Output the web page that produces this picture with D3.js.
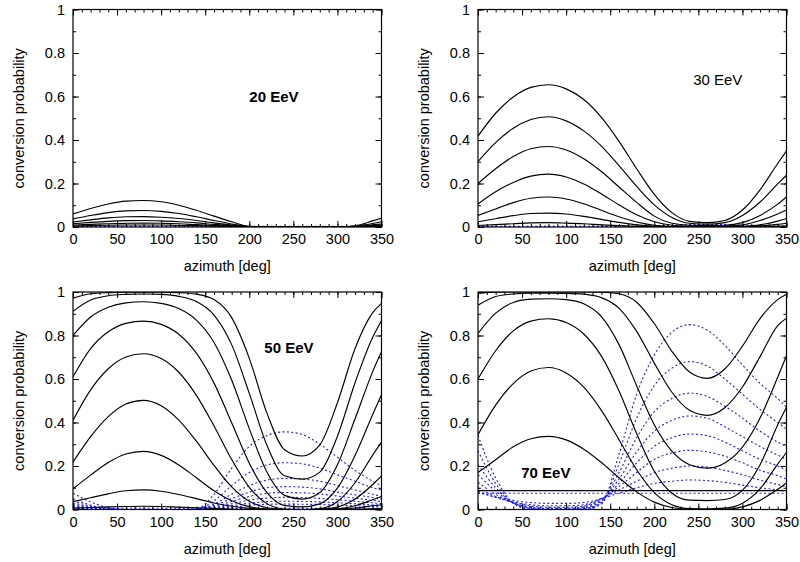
<!DOCTYPE html>
<html>
<head>
<meta charset="utf-8">
<script src="https://cdn.jsdelivr.net/npm/d3@7"></script>
<style>
  body { margin: 0; background: #fff; }
  svg text { font-family: "Liberation Sans", Arial, Helvetica, sans-serif; fill: #000; }
</style>
</head>
<body>
<svg id="chart" width="800" height="562"></svg>
<script>
// ---------- Data ----------
const azimuth = [0, 20, 40, 60, 80, 100, 120, 140, 160, 180, 200, 220, 240, 260, 280, 300, 320, 340, 350];
const xTicks = [0, 50, 100, 150, 200, 250, 300, 350];
const yTicks = [0, 0.2, 0.4, 0.6, 0.8, 1];

// 20 EeV
const black20 = [
  [.060, .085, .106, .119, .122, .116, .100, .077, .050, .024, .003, 0, 0, 0, 0, 0, .006, .028, .040],
  [.037, .053, .066, .074, .076, .072, .062, .047, .030, .014, .002, 0, 0, 0, 0, 0, .004, .016, .024],
  [.023, .033, .042, .047, .048, .045, .039, .030, .019, .009, .001, 0, 0, 0, 0, 0, .002, .010, .014],
  [.015, .021, .026, .029, .030, .028, .024, .019, .012, .006, .001, 0, 0, 0, 0, 0, .001, .006, .009],
  [.009, .012, .015, .017, .018, .017, .015, .011, .007, .003, 0, 0, 0, 0, 0, 0, .001, .004, .005],
  [.004, .006, .008, .009, .009, .009, .007, .006, .004, .002, 0, 0, 0, 0, 0, 0, 0, .002, .003]
];
const blue20 = [
  [.003, .003, .003, .003, .003, .003, .003, .003, .003, .003, .003, .003, .003, .003, .003, .003, .003, .003, .003]
];

// 30 EeV
const black30 = [
  [.418, .523, .598, .642, .654, .635, .586, .504, .394, .268, .150, .066, .026, .020, .030, .078, .171, .292, .350],
  [.301, .388, .454, .494, .507, .488, .442, .372, .282, .187, .102, .044, .017, .013, .020, .053, .115, .198, .238],
  [.200, .268, .324, .360, .370, .354, .314, .255, .184, .113, .050, .017, .008, .007, .008, .020, .053, .105, .138],
  [.106, .162, .205, .234, .243, .230, .198, .152, .102, .056, .024, .008, .004, .003, .004, .010, .030, .060, .078],
  [.053, .083, .112, .132, .138, .129, .107, .077, .047, .023, .008, .002, .001, .001, .001, .003, .010, .027, .039],
  [.024, .038, .052, .062, .064, .060, .049, .035, .021, .010, .004, .001, 0, 0, 0, .001, .005, .012, .017],
  [.007, .011, .015, .019, .020, .018, .015, .010, .006, .003, .001, 0, 0, 0, 0, 0, .001, .003, .005]
];
const blue30 = [
  [.003, .003, .003, .003, .003, .003, .003, .003, .003, .003, .003, .003, .003, .003, .003, .003, .003, .003, .003],
  [.002, .001, 0, 0, 0, 0, 0, 0, 0, .001, .004, .008, .011, .012, .011, .009, .006, .004, .003]
];

// 50 EeV
const black50 = [
  [.972, .992, .997, .999, .999, .999, .997, .990, .965, .882, .695, .443, .275, .246, .297, .491, .740, .905, .948],
  [.911, .963, .983, .989, .991, .989, .980, .956, .894, .758, .534, .295, .155, .140, .172, .337, .583, .792, .868],
  [.800, .885, .930, .950, .955, .948, .924, .871, .768, .595, .372, .172, .065, .048, .078, .206, .417, .634, .725],
  [.610, .740, .817, .856, .866, .851, .806, .719, .581, .399, .213, .078, .019, .012, .026, .098, .248, .437, .528],
  [.410, .550, .647, .701, .716, .694, .631, .525, .384, .230, .102, .027, .002, 0, .004, .037, .123, .250, .310],
  [.218, .335, .427, .485, .502, .477, .411, .314, .203, .104, .038, .008, 0, 0, .001, .011, .048, .115, .155],
  [.095, .158, .216, .255, .267, .249, .205, .146, .086, .040, .013, .002, 0, 0, 0, .003, .017, .045, .060],
  [.036, .054, .072, .086, .090, .084, .069, .050, .030, .015, .005, .001, 0, 0, 0, .002, .007, .017, .022],
  [.006, .009, .012, .014, .015, .014, .011, .008, .005, .002, .001, 0, 0, 0, 0, 0, .001, .003, .004]
];
const blue50 = [
  [.075, .035, .008, 0, 0, 0, 0, .002, .070, .190, .290, .340, .357, .345, .300, .240, .180, .130, .110],
  [.050, .020, .004, 0, 0, 0, 0, .001, .040, .110, .170, .205, .215, .210, .190, .160, .130, .100, .090],
  [.040, .015, .003, 0, 0, 0, 0, .001, .025, .070, .110, .135, .143, .140, .130, .110, .090, .070, .060],
  [.030, .012, .002, 0, 0, 0, 0, 0, .018, .050, .080, .100, .105, .103, .095, .080, .068, .055, .048],
  [.022, .008, .001, 0, 0, 0, 0, 0, .012, .037, .060, .074, .078, .077, .071, .062, .052, .042, .036],
  [.016, .006, .001, 0, 0, 0, 0, 0, .008, .026, .043, .053, .056, .055, .051, .045, .038, .031, .027],
  [.011, .004, 0, 0, 0, 0, 0, 0, .005, .017, .029, .036, .038, .037, .035, .031, .026, .021, .018],
  [.007, .002, 0, 0, 0, 0, 0, 0, .003, .011, .019, .024, .025, .024, .023, .020, .017, .014, .012],
  [.006, .006, .006, .006, .006, .006, .006, .006, .006, .006, .006, .006, .006, .006, .006, .006, .006, .006, .006]
];

// 70 EeV
const black70 = [
  [.994, .999, 1, 1, 1, 1, 1, .999, .992, .953, .855, .727, .632, .603, .646, .751, .878, .965, .990],
  [.939, .979, .991, .995, .995, .994, .990, .974, .925, .819, .673, .539, .456, .433, .468, .563, .703, .845, .880],
  [.810, .903, .952, .967, .969, .965, .946, .887, .758, .569, .390, .268, .206, .190, .214, .287, .421, .608, .707],
  [.600, .730, .821, .866, .877, .860, .807, .705, .545, .349, .176, .075, .043, .041, .046, .088, .206, .389, .470],
  [.344, .480, .579, .637, .653, .628, .563, .456, .321, .183, .078, .022, .004, .003, .006, .029, .095, .209, .262],
  [.170, .229, .288, .325, .336, .320, .277, .216, .146, .081, .034, .009, .001, 0, .001, .012, .042, .093, .122],
  [.087, .087, .087, .087, .087, .087, .087, .087, .087, .087, .087, .087, .087, .087, .087, .087, .087, .087, .087]
];
const blue70 = [
  [.340, .145, .030, 0, 0, 0, 0, .025, .255, .530, .710, .815, .850, .825, .755, .665, .580, .510, .470],
  [.270, .120, .030, .003, 0, 0, .002, .030, .210, .420, .570, .650, .680, .660, .600, .530, .460, .400, .370],
  [.205, .100, .030, .006, 0, 0, .004, .035, .170, .330, .450, .510, .535, .520, .475, .420, .360, .310, .290],
  [.160, .085, .030, .008, .002, .002, .008, .040, .140, .265, .360, .410, .430, .420, .380, .335, .290, .250, .230],
  [.125, .070, .030, .012, .005, .005, .012, .045, .120, .215, .290, .330, .347, .340, .310, .270, .230, .200, .180],
  [.100, .060, .032, .016, .010, .010, .016, .050, .105, .170, .230, .260, .272, .265, .245, .215, .180, .155, .140],
  [.085, .055, .035, .022, .017, .017, .022, .050, .090, .130, .170, .190, .200, .195, .180, .160, .135, .115, .105],
  [.078, .058, .042, .032, .028, .028, .032, .050, .075, .100, .120, .130, .136, .133, .125, .112, .100, .090, .085],
  [.075, .075, .075, .075, .075, .075, .075, .075, .075, .075, .075, .075, .075, .075, .075, .075, .075, .075, .075]
];

// ---------- Layout ----------
const panels = [
  { name: '20 EeV', bold: true,  black: black20, blue: blue20, left: 73,  top: 9.5, at: [228, 0.575] },
  { name: '30 EeV', bold: false, black: black30, blue: blue30, left: 478, top: 9.5, at: [272, 0.655] },
  { name: '50 EeV', bold: true,  black: black50, blue: blue50, left: 73,  top: 292, at: [245, 0.718] },
  { name: '70 EeV', bold: true,  black: black70, blue: blue70, left: 478, top: 292, at: [77, 0.145] }
];
const plotW = 308.5, plotH = 217.5;
const svg = d3.select('#chart');

panels.forEach((p, k) => {
  const x = d3.scaleLinear().domain([0, 350]).range([p.left, p.left + plotW]);
  const y = d3.scaleLinear().domain([0, 1]).range([p.top + plotH, p.top]);
  const g = svg.append('g');

  g.append('clipPath').attr('id', 'clip' + k)
    .append('rect').attr('x', p.left).attr('y', p.top).attr('width', plotW).attr('height', plotH);

  const line = d3.line()
    .x((d, i) => x(azimuth[i]))
    .y(d => y(d))
    .curve(d3.curveMonotoneX);

  const curves = g.append('g').attr('clip-path', `url(#clip${k})`);
  curves.selectAll('path.blue').data(p.blue).enter().append('path')
    .attr('class', 'blue').attr('d', line)
    .attr('fill', 'none').attr('stroke', '#1a1aff').attr('stroke-width', 1.1)
    .attr('stroke-dasharray', '2,2.4');
  curves.selectAll('path.black').data(p.black).enter().append('path')
    .attr('class', 'black').attr('d', line)
    .attr('fill', 'none').attr('stroke', '#000').attr('stroke-width', 1.15);

  // axes with inward ticks on all four sides
  const minorX = d3.range(0, 351, 10);
  const minorY = d3.range(0, 1.001, 0.1);
  const bottom = p.top + plotH;
  const right = p.left + plotW;
  const addAxis = (axis, tx, ty) => {
    const a = g.append('g').attr('transform', `translate(${tx},${ty})`).call(axis);
    a.select('.domain').remove();
    a.selectAll('line').attr('stroke', '#000').attr('stroke-width', 1);
    a.selectAll('text').style('font-size', '14.5px');
    return a;
  };
  addAxis(d3.axisBottom(x).tickValues(xTicks).tickSize(-6).tickPadding(7).tickFormat(d3.format('d')), 0, bottom);
  addAxis(d3.axisBottom(x).tickValues(minorX).tickSize(-3).tickFormat(''), 0, bottom);
  addAxis(d3.axisTop(x).tickValues(xTicks).tickSize(-6).tickFormat(''), 0, p.top);
  addAxis(d3.axisTop(x).tickValues(minorX).tickSize(-3).tickFormat(''), 0, p.top);
  addAxis(d3.axisLeft(y).tickValues(yTicks).tickSize(-6).tickPadding(8).tickFormat(d => d), p.left, 0);
  addAxis(d3.axisLeft(y).tickValues(minorY).tickSize(-3).tickFormat(''), p.left, 0);
  addAxis(d3.axisRight(y).tickValues(yTicks).tickSize(-6).tickFormat(''), right, 0);
  addAxis(d3.axisRight(y).tickValues(minorY).tickSize(-3).tickFormat(''), right, 0);

  g.append('rect')
    .attr('x', p.left).attr('y', p.top).attr('width', plotW).attr('height', plotH)
    .attr('fill', 'none').attr('stroke', '#000').attr('stroke-width', 1.2);

  // titles
  g.append('text')
    .attr('transform', `translate(${p.left - 54},${p.top + plotH / 2}) rotate(-90)`)
    .attr('text-anchor', 'middle').attr('dy', '0.35em')
    .style('font-size', '14.5px')
    .text('conversion probability');
  g.append('text')
    .attr('x', p.left + plotW / 2).attr('y', bottom + 44)
    .attr('text-anchor', 'middle')
    .style('font-size', '14.5px')
    .text('azimuth [deg]');

  g.append('text')
    .attr('x', x(p.at[0])).attr('y', y(p.at[1]))
    .attr('text-anchor', 'middle')
    .style('font-size', '15px')
    .style('font-weight', p.bold ? 'bold' : 'normal')
    .text(p.name);
});
</script>
</body>
</html>
